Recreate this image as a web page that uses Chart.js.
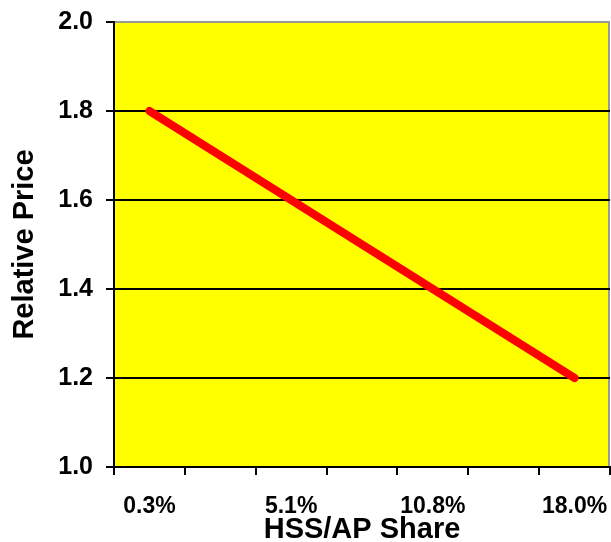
<!DOCTYPE html>
<html>
<head>
<meta charset="utf-8">
<script src="https://cdn.jsdelivr.net/npm/chart.js@4"></script>
<style>
  body { margin: 0; background: #fff; }
  canvas { display: block; }
</style>
</head>
<body>
<canvas id="chart" width="611" height="542"></canvas>
<script>
// categories (only every other one is labelled on the axis)
const shareLabels = ['0.3%', '', '5.1%', '', '10.8%', '', '18.0%'];
const relativePrice = [1.8, 1.7, 1.6, 1.5, 1.4, 1.3, 1.2];
const priceTicks = [1.0, 1.2, 1.4, 1.6, 1.8, 2.0];

const FONT = '"Liberation Sans", Arial, sans-serif';

// yellow plot area plus the grey right edge
const plotBackground = {
  id: 'plotBackground',
  beforeDraw(chart) {
    const { ctx, chartArea: a } = chart;
    ctx.save();
    ctx.fillStyle = '#ffff00';
    ctx.fillRect(a.left, a.top, a.right - a.left, a.bottom - a.top);
    ctx.strokeStyle = '#999999';
    ctx.lineWidth = 2;
    ctx.beginPath();
    ctx.moveTo(a.right - 1, a.top);
    ctx.lineTo(a.right - 1, a.bottom);
    ctx.stroke();
    ctx.restore();
  }
};

// keep the plot area where the layout padding puts it
function noOverflow(scale) {
  scale.paddingLeft = 0;
  scale.paddingRight = 0;
  scale.paddingTop = 0;
  scale.paddingBottom = 0;
}

new Chart(document.getElementById('chart'), {
  type: 'line',
  data: {
    labels: shareLabels,
    datasets: [{
      data: relativePrice,
      borderColor: '#ff0000',
      borderWidth: 8,
      borderCapStyle: 'round',
      pointRadius: 0,
      tension: 0
    }]
  },
  options: {
    responsive: false,
    animation: false,
    devicePixelRatio: 1,
    layout: { padding: { left: 0, top: 22, right: 1, bottom: 0 } },
    plugins: { legend: { display: false }, tooltip: { enabled: false } },
    scales: {
      x: {
        offset: true,
        afterFit(scale) { scale.height = 75; noOverflow(scale); },
        border: { color: '#000', width: 2 },
        grid: {
          offset: true,
          drawOnChartArea: false,
          drawTicks: true,
          tickLength: 8,
          tickColor: '#000',
          tickWidth: 2,
          color: '#000',
          lineWidth: 2
        },
        ticks: {
          autoSkip: false,
          maxRotation: 0,
          padding: 18,
          color: '#000',
          font: { family: FONT, size: 23, weight: 'bold' }
        },
        title: {
          display: true,
          text: 'HSS/AP Share',
          color: '#000',
          padding: { top: 0, bottom: -2 },
          font: { family: FONT, size: 29, weight: 'bold', lineHeight: 1 }
        }
      },
      y: {
        min: priceTicks[0],
        max: priceTicks[priceTicks.length - 1],
        afterFit(scale) { scale.width = 114; noOverflow(scale); },
        afterBuildTicks(scale) { scale.ticks = priceTicks.map(v => ({ value: v })); },
        border: { color: '#000', width: 2 },
        grid: {
          color: ctx => (ctx.tick && ctx.tick.value === 2 ? '#999999' : '#000'),
          lineWidth: 2,
          drawTicks: true,
          tickLength: 8,
          tickColor: '#000',
          tickWidth: 2
        },
        ticks: {
          padding: 13,
          color: '#000',
          font: { family: FONT, size: 25, weight: 'bold' },
          callback: v => Number(v).toFixed(1)
        },
        title: {
          display: true,
          text: 'Relative Price',
          color: '#000',
          padding: { top: 8, bottom: 0 },
          font: { family: FONT, size: 29, weight: 'bold' }
        }
      }
    }
  },
  plugins: [plotBackground]
});
</script>
</body>
</html>
